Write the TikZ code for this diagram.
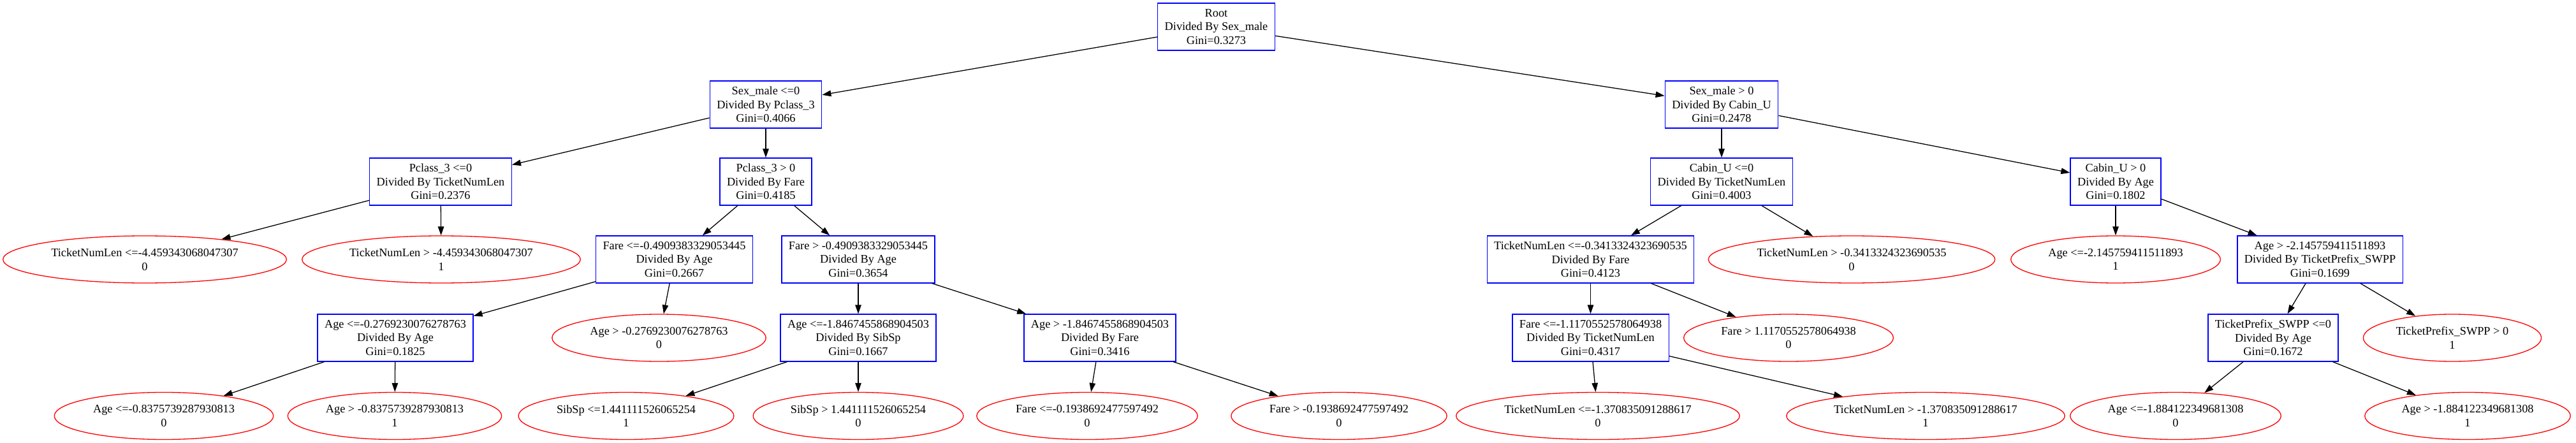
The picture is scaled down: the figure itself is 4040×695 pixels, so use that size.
\documentclass[tikz,border=0pt]{standalone}
\usepackage{fontspec}
\setmainfont{Liberation Serif}
\usetikzlibrary{arrows.meta,shapes.geometric}
\begin{document}
\begin{tikzpicture}[x=1pt,y=-1pt,
  every node/.style={font=\fontsize{18.3}{21.5}\selectfont, align=center},
  split/.style={draw=blue, line width=1.3pt, rectangle, inner xsep=11pt, inner ysep=2pt, minimum height=74pt},
  leaf/.style={draw=red, line width=1.3pt, ellipse, inner xsep=10.5pt, inner ysep=2pt, minimum height=74pt},
  edge/.style={draw=black, line width=1.3pt, -{Triangle[length=14pt,width=9.5pt]}}]
\useasboundingbox (0,0) rectangle (4040,695);
% level 0
\node[split] (root) at (1907.5,42) {Root\\Divided By Sex\_male\\Gini=0.3273};
% level 1
\node[split] (n1) at (1201,164) {Sex\_male <=0\\Divided By Pclass\_3\\Gini=0.4066};
\node[split] (n2) at (2700,164) {Sex\_male > 0\\Divided By Cabin\_U\\Gini=0.2478};
% level 2
\node[split] (n11) at (691,285) {Pclass\_3 <=0\\Divided By TicketNumLen\\Gini=0.2376};
\node[split] (n12) at (1201,285) {Pclass\_3 > 0\\Divided By Fare\\Gini=0.4185};
\node[split] (n21) at (2700,285) {Cabin\_U <=0\\Divided By TicketNumLen\\Gini=0.4003};
\node[split] (n22) at (3318,285) {Cabin\_U > 0\\Divided By Age\\Gini=0.1802};
% level 3
\node[leaf] (l111) at (227,407) {TicketNumLen <=-4.459343068047307\\0};
\node[leaf] (l112) at (692,407) {TicketNumLen > -4.459343068047307\\1};
\node[split] (n121) at (1057.5,407) {Fare <=-0.4909383329053445\\Divided By Age\\Gini=0.2667};
\node[split] (n122) at (1346,407) {Fare > -0.4909383329053445\\Divided By Age\\Gini=0.3654};
\node[split] (n211) at (2494.5,407) {TicketNumLen <=-0.3413324323690535\\Divided By Fare\\Gini=0.4123};
\node[leaf] (l212) at (2904,407) {TicketNumLen > -0.3413324323690535\\0};
\node[leaf] (l221) at (3318,407) {Age <=-2.145759411511893\\1};
\node[split] (n222) at (3638.5,407) {Age > -2.145759411511893\\Divided By TicketPrefix\_SWPP\\Gini=0.1699};
% level 4
\node[split] (n1211) at (620,530) {Age <=-0.2769230076278763\\Divided By Age\\Gini=0.1825};
\node[leaf] (l1212) at (1033.5,530) {Age > -0.2769230076278763\\0};
\node[split] (n1221) at (1346,530) {Age <=-1.8467455868904503\\Divided By SibSp\\Gini=0.1667};
\node[split] (n1222) at (1725,530) {Age > -1.8467455868904503\\Divided By Fare\\Gini=0.3416};
\node[split] (n2111) at (2494.5,530) {Fare <=-1.1170552578064938\\Divided By TicketNumLen\\Gini=0.4317};
\node[leaf] (l2112) at (2805,530) {Fare > 1.1170552578064938\\0};
\node[split] (n2221) at (3565,530) {TicketPrefix\_SWPP <=0\\Divided By Age\\Gini=0.1672};
\node[leaf] (l2222) at (3846,530) {TicketPrefix\_SWPP > 0\\1};
% level 5
\node[leaf] (l12111) at (257,652.5) {Age <=-0.8375739287930813\\0};
\node[leaf] (l12112) at (619,652.5) {Age > -0.8375739287930813\\1};
\node[leaf] (l12211) at (982,652.5) {SibSp <=1.441111526065254\\1};
\node[leaf] (l12212) at (1346,652.5) {SibSp > 1.441111526065254\\0};
\node[leaf] (l12221) at (1705,652.5) {Fare <=-0.1938692477597492\\0};
\node[leaf] (l12222) at (2100,652.5) {Fare > -0.1938692477597492\\0};
\node[leaf] (l21111) at (2506,652.5) {TicketNumLen <=-1.370835091288617\\0};
\node[leaf] (l21112) at (3020,652.5) {TicketNumLen > -1.370835091288617\\1};
\node[leaf] (l22211) at (3412,652.5) {Age <=-1.884122349681308\\0};
\node[leaf] (l22212) at (3870,652.5) {Age > -1.884122349681308\\1};
% edges
\draw[edge] (root) -- (n1);
\draw[edge] (root) -- (n2);
\draw[edge] (n1) -- (n11);
\draw[edge] (n1) -- (n12);
\draw[edge] (n2) -- (n21);
\draw[edge] (n2) -- (n22);
\draw[edge] (n11) -- (l111);
\draw[edge] (n11) -- (l112);
\draw[edge] (n12) -- (n121);
\draw[edge] (n12) -- (n122);
\draw[edge] (n21) -- (n211);
\draw[edge] (n21) -- (l212);
\draw[edge] (n22) -- (l221);
\draw[edge] (n22) -- (n222);
\draw[edge] (n121) -- (n1211);
\draw[edge] (n121) -- (l1212);
\draw[edge] (n122) -- (n1221);
\draw[edge] (n122) -- (n1222);
\draw[edge] (n211) -- (n2111);
\draw[edge] (n211) -- (l2112);
\draw[edge] (n222) -- (n2221);
\draw[edge] (n222) -- (l2222);
\draw[edge] (n1211) -- (l12111);
\draw[edge] (n1211) -- (l12112);
\draw[edge] (n1221) -- (l12211);
\draw[edge] (n1221) -- (l12212);
\draw[edge] (n1222) -- (l12221);
\draw[edge] (n1222) -- (l12222);
\draw[edge] (n2111) -- (l21111);
\draw[edge] (n2111) -- (l21112);
\draw[edge] (n2221) -- (l22211);
\draw[edge] (n2221) -- (l22212);
\end{tikzpicture}
\end{document}
